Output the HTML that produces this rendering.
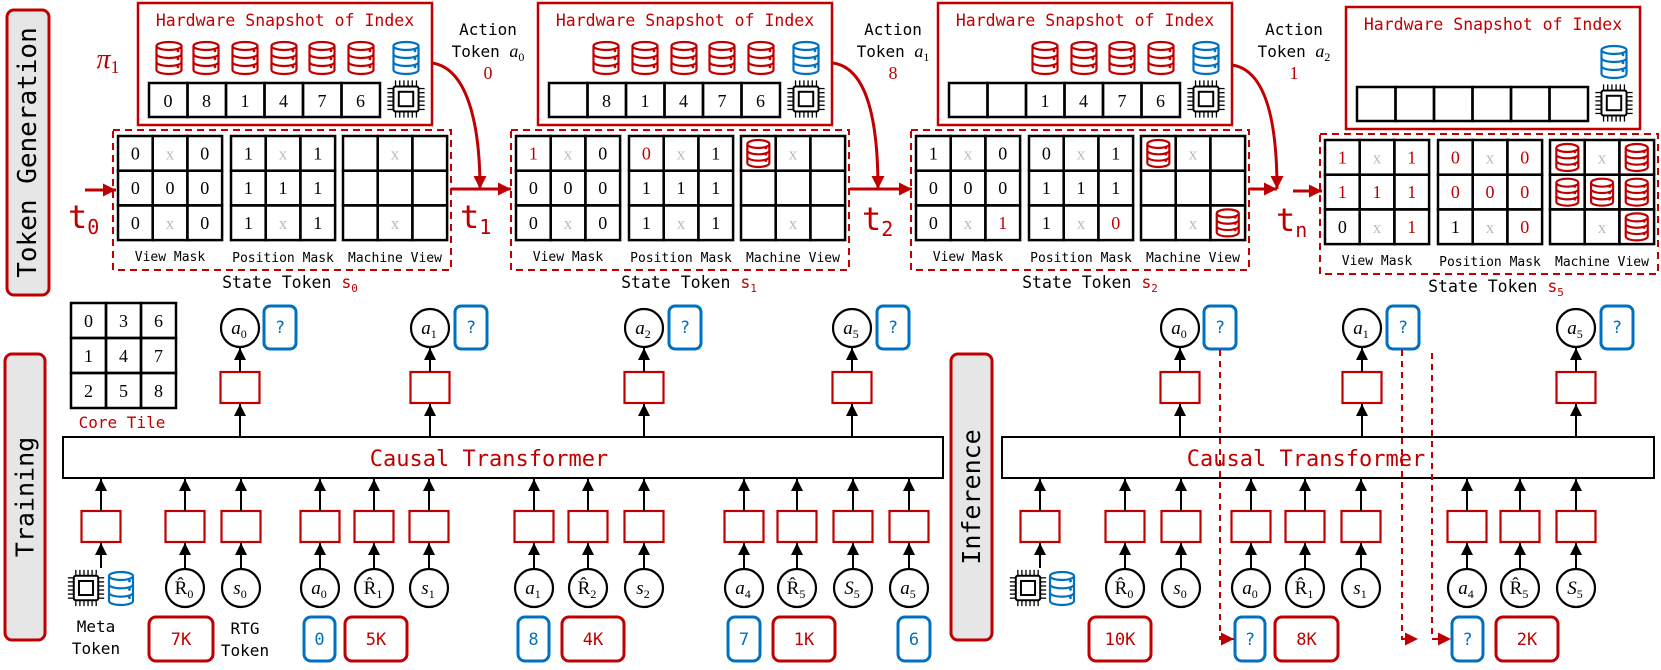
<!DOCTYPE html>
<html><head><meta charset="utf-8"><style>html,body{margin:0;padding:0;background:#fff}svg{display:block}</style></head>
<body>
<svg id="s" xmlns="http://www.w3.org/2000/svg" width="1661" height="670" viewBox="0 0 1661 670"></svg>
<script>
const R='#c00000',B='#0070c0',K='#000';
const MONO='DejaVu Sans Mono, Liberation Mono, monospace';
const SERIF='Liberation Serif, serif';
let s=`<defs>
<marker id="ak" markerUnits="userSpaceOnUse" markerWidth="12" markerHeight="12" viewBox="0 0 10 10" refX="10" refY="5" orient="auto"><path d="M0,0 L10,5 L0,10 z" fill="#000"/></marker>
<marker id="ar" markerUnits="userSpaceOnUse" markerWidth="13" markerHeight="13" viewBox="0 0 10 10" refX="10" refY="5" orient="auto"><path d="M0,0 L10,5 L0,10 z" fill="${R}"/></marker>
</defs>`;
function rect(x,y,w,h,st,sw,o={}){s+=`<rect x="${x}" y="${y}" width="${w}" height="${h}" fill="${o.fill||'none'}" stroke="${st}" stroke-width="${sw}" rx="${o.rx||0}" ${o.dash?`stroke-dasharray="${o.dash}"`:''}/>`;}
function T(x,y,t,o={}){s+=`<text x="${x}" y="${y}" font-family="${o.ff||MONO}" font-size="${o.fs||16}" fill="${o.c||K}" text-anchor="${o.a||'middle'}" ${o.extra||''}>${t}</text>`;}
function L(x1,y1,x2,y2,c,sw,m,dash){s+=`<line x1="${x1}" y1="${y1}" x2="${x2}" y2="${y2}" stroke="${c}" stroke-width="${sw}" ${m?`marker-end="url(#${m})"`:''} ${dash?`stroke-dasharray="${dash}"`:''}/>`;}
function db(cx,y,w,h,c){
  const rx=w/2,ry=4,x0=cx-rx,x1=cx+rx,b=y+h-ry;
  let p=`M${x0},${y+ry} A${rx},${ry} 0 0 1 ${x1},${y+ry} A${rx},${ry} 0 0 1 ${x0},${y+ry} L${x0},${b} A${rx},${ry} 0 0 0 ${x1},${b} L${x1},${y+ry}`;
  const st=(h-2*ry)/3;
  for(let i=1;i<=2;i++){const yy=y+ry+st*i;p+=` M${x0},${yy} A${rx},${ry} 0 0 0 ${x1},${yy}`;}
  s+=`<path d="${p}" fill="#fff" stroke="${c}" stroke-width="2.2"/>`;
  for(let i=0;i<3;i++){const yy=y+ry+st*i+st*0.6;s+=`<circle cx="${x1-3.5}" cy="${yy}" r="1.4" fill="${c}"/>`;}
}
function chip(cx,cy,S){
  const o=S*0.66,i=S*0.38,pl=S*0.16;
  rect(cx-o/2,cy-o/2,o,o,K,2,{fill:'#fff',rx:2});
  rect(cx-i/2,cy-i/2,i,i,K,2);
  for(let k=0;k<6;k++){const d=-o/2+o*(k+0.5)/6;
    L(cx+d,cy-o/2,cx+d,cy-o/2-pl,K,1.3);L(cx+d,cy+o/2,cx+d,cy+o/2+pl,K,1.3);
    L(cx-o/2,cy+d,cx-o/2-pl,cy+d,K,1.3);L(cx+o/2,cy+d,cx+o/2+pl,cy+d,K,1.3);}
}
// sidebars
function side(x,y,w,h,t,fs){rect(x,y,w,h,R,3,{fill:'#e6e6e6',rx:7});
  const cx=x+w/2,cy=y+h/2;T(cx,cy,t,{fs:fs,extra:`transform="rotate(-90 ${cx} ${cy})" dominant-baseline="central"`});}
side(7,10,42,285,'Token Generation',26);
side(5,354,40,286,'Training',25);
side(951,354,41,286,'Inference',25);

// top snapshots
const vals=[['0','8','1','4','7','6'],['','8','1','4','7','6'],['','','1','4','7','6'],['','','','','','']];
const dbs=[[0,1,2,3,4,5],[1,2,3,4,5],[2,3,4,5],[]];
const dbx=[169,206,245,284,322,361];
const offs=[0,400,800,1208];
for(let b=0;b<4;b++){
  const o=offs[b],dy=b==3?4:0;
  rect(138+o,3+dy,294,122,R,2.5);
  T(285+o,26+dy,'Hardware Snapshot of Index',{fs:16.5,c:R});
  for(const k of dbs[b]) db(dbx[k]+o,42+dy,25,32,R);
  db(406+o,42+dy,25,32,B);
  for(let k=0;k<6;k++){rect(149+o+k*38.5,83+dy,38.5,34,K,2.5);T(149+o+k*38.5+19,107+dy,vals[b][k],{ff:SERIF,fs:18});}
  chip(406+o,99+dy,38);
}
T(108,68,'<tspan font-style="italic">π</tspan><tspan font-size="18" dy="5">1</tspan>',{ff:SERIF,fs:28,c:R});

// state tokens
const g=[
 {vm:[['0','x','0'],['0','0','0'],['0','x','0']],pm:[['1','x','1'],['1','1','1'],['1','x','1']],mv:[['','x',''],['','',''],['','x','']]},
 {vm:[['1r','x','0'],['0','0','0'],['0','x','0']],pm:[['0r','x','1'],['1','1','1'],['1','x','1']],mv:[['d','x',''],['','',''],['','x','']]},
 {vm:[['1','x','0'],['0','0','0'],['0','x','1r']],pm:[['0','x','1'],['1','1','1'],['1','x','0r']],mv:[['d','x',''],['','',''],['','x','d']]},
 {vm:[['1r','x','1r'],['1r','1r','1r'],['0','x','1r']],pm:[['0r','x','0r'],['0r','0r','0r'],['1','x','0r']],mv:[['d','x','d'],['d','d','d'],['','x','d']]}
];
const so=[0,398,798,1207],subs=['0','1','2','5'],sc=[290,689,1090,1496];
function grid(x,y,data){const c=34.7;
  for(let r=0;r<3;r++)for(let q=0;q<3;q++){const cx=x+q*c,cy=y+r*c;rect(cx,cy,c,c,K,2.5);
    const v=data[r][q];
    if(v=='x')T(cx+c/2,cy+c/2+6,'x',{ff:SERIF,fs:17,c:'#bbb'});
    else if(v=='d')db(cx+c/2,cy+4,22,27,R);
    else if(v)T(cx+c/2,cy+c/2+6,v[0],{ff:SERIF,fs:18,c:v.length>1?R:K});}
}
for(let b=0;b<4;b++){
  const o=so[b],dy=b==3?4:0;
  rect(113+o,130+dy,338,140,R,2,{dash:'7,5'});
  grid(118+o,136+dy,g[b].vm);grid(231+o,136+dy,g[b].pm);grid(343+o,136+dy,g[b].mv);
  T(170+o,261+dy,'View Mask',{fs:13});T(283+o,262+dy,'Position Mask',{fs:13});T(395+o,262+dy,'Machine View',{fs:13});
  T(sc[b],288+dy,`State Token <tspan fill="${R}">s<tspan font-size="11" dy="4">${subs[b]}</tspan></tspan>`,{fs:16.5});
}
// t labels
function tl(x,y,sub){T(x,y,`t<tspan font-size="20" dy="6">${sub}</tspan>`,{fs:32,c:R,a:'start'});}
tl(68,228,'0');tl(460,228,'1');tl(862,230,'2');tl(1276,231,'n');
L(85,190,116,190,R,3,'ar');
L(451,189,511,189,R,3,'ar');
L(850,189,912,189,R,3,'ar');
L(1249,189,1277,189,R,3,'ar');
L(1293,191,1322,191,R,3,'ar');
// curves
function curve(x1,y1,x2,y2){s+=`<path d="M${x1},${y1} C${x1+35},${y1+5} ${x2},${y1+60} ${x2},${y2}" fill="none" stroke="${R}" stroke-width="3" marker-end="url(#ar)"/>`;}
curve(432,63,480,189);curve(833,63,878,189);curve(1232,65,1277,189);
// action tokens
const at=[[488,'0','0'],[893,'1','8'],[1294,'2','1']];
for(const [x,sb,v] of at){T(x,35,'Action',{fs:16});
  T(x,57,`Token <tspan font-family="${SERIF}" font-style="italic" font-size="18">a</tspan><tspan font-family="${SERIF}" font-size="12" dy="4">${sb}</tspan>`,{fs:16});
  T(x,79,v,{ff:SERIF,fs:18,c:R});}

// core tile
const ct=[['0','3','6'],['1','4','7'],['2','5','8']];
for(let r=0;r<3;r++)for(let q=0;q<3;q++){rect(71+q*35,303+r*35,35,35,K,2.5);T(71+q*35+17.5,303+r*35+24,ct[r][q],{ff:SERIF,fs:18});}
T(122,428,'Core Tile',{fs:16,c:R});

// transformers
rect(63,437,880,41,K,2);T(489,466,'Causal Transformer',{fs:22,c:R});
rect(1002,437,652,41,K,2);T(1306,466,'Causal Transformer',{fs:22,c:R});

function lab(t,sub){
  if(t=='R')return `R̂<tspan font-size="12" dy="4">${sub}</tspan>`;
  return `<tspan font-style="italic">${t}</tspan><tspan font-size="12" dy="4">${sub}</tspan>`;
}
function incol(x,t,sub){
  s+=`<circle cx="${x}" cy="588" r="19" fill="#fff" stroke="${K}" stroke-width="2.2"/>`;
  T(x-1,594,lab(t,sub),{ff:SERIF,fs:19});
  L(x,569,x,543,K,2,'ak');
  rect(x-19.5,511,39,31,R,2.2);
  L(x,511,x,479,K,2,'ak');
}
function outcol(x,sub,qx){
  L(x,437,x,404,K,2,'ak');
  rect(x-19.5,372,39,31,R,2.2);
  L(x,372,x,348,K,2,'ak');
  s+=`<circle cx="${x}" cy="328" r="19" fill="#fff" stroke="${K}" stroke-width="2.2"/>`;
  T(x-1,334,lab('a',sub),{ff:SERIF,fs:19});
  rect(qx,306,32,43,B,3,{rx:6});T(qx+16,333,'?',{fs:17,c:B});
}
function meta(x,chx,dbx){
  chip(chx,588,37);db(dbx,572,24,33,B);
  L(x,568,x,543,K,2,'ak');rect(x-19.5,511,39,31,R,2.2);L(x,511,x,479,K,2,'ak');
}
function vbox(x1,x2,t,c){rect(x1,617,x2-x1,44,c,3,{rx:7});T((x1+x2)/2,645,t,{fs:17,c:c});}

// training
meta(101,86,121);
[[185,'R','0'],[241,'s','0'],[320,'a','0'],[374,'R','1'],[429,'s','1'],[534,'a','1'],[588,'R','2'],[644,'s','2'],[744,'a','4'],[797,'R','5'],[853,'S','5'],[909,'a','5']].forEach(c=>incol(...c));
[[240,'0',264],[430,'1',455],[644,'2',669],[852,'5',877]].forEach(c=>outcol(...c));
T(96,632,'Meta',{fs:16});T(96,654,'Token',{fs:16});
T(245,634,'RTG',{fs:16});T(245,656,'Token',{fs:16});
vbox(149,213,'7K',R);vbox(304,335,'0',B);vbox(345,407,'5K',R);vbox(518,549,'8',B);
vbox(562,624,'4K',R);vbox(728,760,'7',B);vbox(773,835,'1K',R);vbox(898,930,'6',B);

// inference
meta(1040,1028,1062);
[[1125,'R','0'],[1181,'s','0'],[1251,'a','0'],[1305,'R','1'],[1361,'s','1'],[1467,'a','4'],[1520,'R','5'],[1576,'S','5']].forEach(c=>incol(...c));
[[1180,'0',1204],[1362,'1',1387],[1576,'5',1601]].forEach(c=>outcol(...c));
vbox(1089,1151,'10K',R);vbox(1235,1265,'?',B);vbox(1275,1338,'8K',R);vbox(1452,1483,'?',B);vbox(1496,1558,'2K',R);
// dashed
function dl(x,y1,x2){s+=`<path d="M${x},${y1} L${x},639 L${x2},639" fill="none" stroke="${R}" stroke-width="2" stroke-dasharray="6,5" marker-end="url(#ar)"/>`;}
dl(1220,350,1234);dl(1402,350,1418);dl(1432,353,1451);

document.getElementById('s').innerHTML=s;
</script>
</body></html>
